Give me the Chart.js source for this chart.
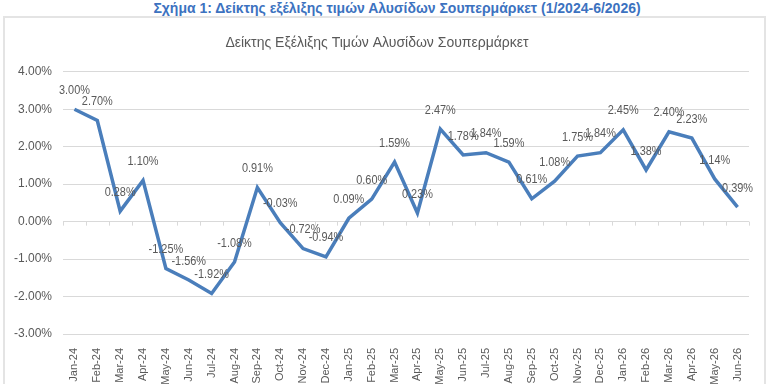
<!DOCTYPE html>
<html>
<head>
<meta charset="utf-8">
<script src="https://cdn.jsdelivr.net/npm/chart.js@4.4.1/dist/chart.umd.min.js"></script>
<style>
    html, body { margin: 0; padding: 0; background: #fff; }
    body { width: 768px; height: 384px; position: relative; overflow: hidden; }
    #hdr {
        position: absolute; left: 13px; top: 0px; width: 768px; text-align: center;
        font: bold 14px "Liberation Sans", Arial, sans-serif;
        color: #3c72c0;
    }
    #frame {
        position: absolute; left: 3px; top: 16px; width: 763px; height: 380px;
        border: 2px solid #e4e4e4; border-bottom: none; box-sizing: border-box;
    }
    #wrap { position: absolute; left: 5px; top: 18px; width: 758px; height: 366px; }
</style>
</head>
<body>
<div id="hdr">Σχήμα 1: Δείκτης εξέλιξης τιμών Αλυσίδων Σουπερμάρκετ (1/2024-6/2026)</div>
<div id="frame"></div>
<div id="wrap"><canvas id="priceChart"></canvas></div>
<script>
// Data
const months = [
    'Jan-24', 'Feb-24', 'Mar-24', 'Apr-24', 'May-24', 'Jun-24', 'Jul-24', 'Aug-24', 'Sep-24', 'Oct-24',
    'Nov-24', 'Dec-24', 'Jan-25', 'Feb-25', 'Mar-25', 'Apr-25', 'May-25', 'Jun-25', 'Jul-25', 'Aug-25',
    'Sep-25', 'Oct-25', 'Nov-25', 'Dec-25', 'Jan-26', 'Feb-26', 'Mar-26', 'Apr-26', 'May-26', 'Jun-26'
];
const priceIndex = [
    3.00, 2.70, 0.28, 1.10, -1.25, -1.56, -1.92, -1.08, 0.91, -0.03,
    -0.72, -0.94, 0.09, 0.60, 1.59, 0.23, 2.47, 1.78, 1.84, 1.59,
    0.61, 1.08, 1.75, 1.84, 2.45, 1.38, 2.40, 2.23, 1.14, 0.39
];
const yTicks = [-3, -2, -1, 0, 1, 2, 3, 4];

const sans = '"Liberation Sans", Arial, sans-serif';
const textGray = '#595959';

// point labels above each point
const pointLabels = {
    id: 'pointLabels',
    afterDatasetsDraw(chart) {
        const ctx = chart.ctx;
        const meta = chart.getDatasetMeta(0);
        ctx.save();
        ctx.font = '13px ' + sans;
        ctx.fillStyle = textGray;
        ctx.textAlign = 'center';
        ctx.textBaseline = 'middle';
        meta.data.forEach((pt, i) => {
            // squeeze horizontally, the original uses a narrow face
            ctx.save();
            ctx.translate(pt.x, pt.y - 19);
            ctx.scale(0.84, 1);
            ctx.fillText(priceIndex[i].toFixed(2) + '%', 0, 0);
            ctx.restore();
        });
        ctx.restore();
    }
};

// small tick marks on the zero line, between categories
const zeroTicks = {
    id: 'zeroTicks',
    beforeDatasetsDraw(chart) {
        const { ctx, scales: { x, y } } = chart;
        const y0 = y.getPixelForValue(0);
        const half = (x.getPixelForValue(1) - x.getPixelForValue(0)) / 2;
        ctx.save();
        ctx.strokeStyle = '#d9d9d9';
        ctx.lineWidth = 1;
        for (let i = 0; i <= months.length; i++) {
            const px = Math.round(x.getPixelForValue(i) - half) + 0.5;
            ctx.beginPath();
            ctx.moveTo(px, y0);
            ctx.lineTo(px, y0 + 4);
            ctx.stroke();
        }
        ctx.restore();
    }
};

new Chart(document.getElementById('priceChart'), {
    type: 'line',
    data: {
        labels: months,
        datasets: [{
            data: priceIndex,
            borderColor: '#4a7ebb',
            borderWidth: 3.5,
            pointRadius: 0,
            tension: 0,
            fill: false,
        }],
    },
    options: {
        responsive: true,
        maintainAspectRatio: false,
        animation: false,
        layout: { padding: { left: 0, right: 14, top: 0, bottom: 0 } },
        plugins: {
            legend: { display: false },
            tooltip: { enabled: false },
            title: {
                display: true,
                text: 'Δείκτης Εξέλιξης Τιμών Αλυσίδων Σουπερμάρκετ',
                color: textGray,
                font: { family: sans, size: 14, weight: 'normal' },
                padding: { top: 17, bottom: 20 },
            },
        },
        scales: {
            x: {
                offset: true,
                grid: { display: false },
                border: { display: false },
                ticks: {
                    color: textGray,
                    font: { family: sans, size: 11 },
                    minRotation: 90,
                    maxRotation: 90,
                    autoSkip: false,
                    padding: 6,
                },
                afterFit(s) { s.height = 50; },
            },
            y: {
                min: -3,
                max: 4,
                afterBuildTicks(s) { s.ticks = yTicks.map(v => ({ value: v })); },
                grid: { color: '#d9d9d9', lineWidth: 1, drawTicks: false },
                border: { display: false },
                ticks: {
                    color: textGray,
                    font: { family: sans, size: 12 },
                    padding: 11,
                    callback: v => v.toFixed(2) + '%',
                },
                afterFit(s) { s.width = 58; },
            },
        },
    },
    plugins: [pointLabels, zeroTicks],
});
</script>
</body>
</html>
